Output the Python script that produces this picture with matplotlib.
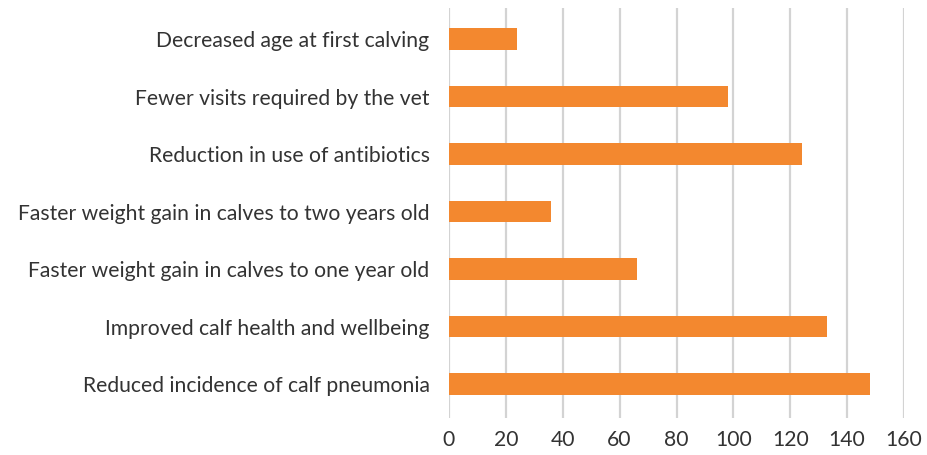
import matplotlib
matplotlib.use('Agg')
import matplotlib.pyplot as plt

# Categories listed bottom to top (as drawn)
categories = [
    'Reduced incidence of calf pneumonia',
    'Improved calf health and wellbeing',
    'Faster weight gain in calves to one year old',
    'Faster weight gain in calves to two years old',
    'Reduction in use of antibiotics',
    'Fewer visits required by the vet',
    'Decreased age at first calving',
]
values = [148, 133, 66, 36, 124, 98, 24]
xticks = [0, 20, 40, 60, 80, 100, 120, 140, 160]

plt.rcParams['font.family'] = ['Lato', 'DejaVu Sans']

fig = plt.figure(figsize=(9.28, 4.55), dpi=100)
ax = fig.add_axes([449 / 928, 1 - 418 / 455, 455 / 928, 410 / 455])

ax.barh(range(len(categories)), values, height=0.38, color='#F3882F', zorder=3)

ax.set_xlim(0, 160)
ax.set_ylim(-0.59, 6.54)
ax.set_xticks(xticks)
ax.set_yticks(range(len(categories)))
ax.set_yticklabels(categories)
ax.grid(axis='x', color='#d3d3d3', linewidth=1.6, zorder=0)
for s in ax.spines.values():
    s.set_visible(False)
ax.tick_params(axis='y', length=0, pad=14, labelsize=15.2, labelcolor='#333333')
ax.tick_params(axis='x', length=0, pad=9, labelsize=15.2, labelcolor='#333333')

fig.savefig('out.png', dpi=100)
